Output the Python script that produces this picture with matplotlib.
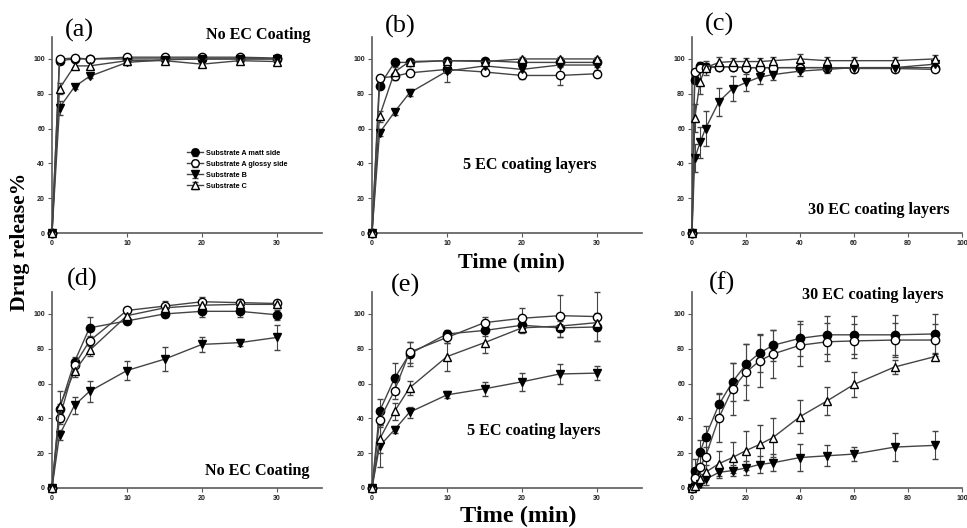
import matplotlib
matplotlib.use("Agg")
import matplotlib.pyplot as plt

# Sampling times (min)
t30 = [0, 1, 3, 5, 10, 15, 20, 25, 30]
t90 = [0, 1, 3, 5, 10, 15, 20, 25, 30, 40, 50, 60, 75, 90]

series_names = ["Substrate A matt side", "Substrate A glossy side", "Substrate B", "Substrate C"]

# (a) No EC coating
a_matt = [0, 99, 100, 100, 100, 100, 100, 100, 100]
a_glossy = [0, 100, 100.5, 100, 101, 101, 101, 101, 100.5]
a_b = [0, 72, 84, 90, 98, 99.5, 100, 100, 100]
a_c = [0, 83, 96, 96, 99, 99, 97, 99, 98.5]
a_matt_err = [0, 1, 1, 1, 1, 1, 1, 1, 1]
a_glossy_err = [0, 1, 1, 1, 1, 1, 1, 1, 1]
a_b_err = [0, 4, 1.5, 1, 1.5, 1, 1, 1, 1]
a_c_err = [0, 3, 2, 2, 1, 1.5, 1, 1, 1]

# (b) 5 EC coating layers
b_matt = [0, 84.5, 98, 98, 99, 99, 98, 98, 98]
b_glossy = [0, 89, 90, 92, 94, 92.5, 90.5, 90.5, 91.5]
b_b = [0, 57.5, 69.5, 80.5, 93, 96, 94, 96.5, 96.5]
b_c = [0, 67, 92.5, 98.5, 99, 98.5, 100, 100, 100]
b_matt_err = [0, 2, 1, 1, 1, 1, 1, 1, 1]
b_glossy_err = [0, 2, 2, 2, 2, 2, 2, 5.5, 2]
b_b_err = [0, 2, 1.5, 2, 6, 1.5, 1.5, 1, 1]
b_c_err = [0, 3, 3, 1, 1, 1, 1, 1, 1]

# (c) 30 EC coating layers
c_matt = [0, 88, 96, 95.5, 95.5, 95.5, 95, 95, 95, 95, 95, 95, 95, 95]
c_glossy = [0, 92.5, 95, 95, 95.5, 95.5, 95, 95, 95, 95, 95, 94.5, 94.5, 94]
c_b = [0, 43, 52, 60, 75.5, 83, 86.5, 89.5, 91, 93, 94, 95, 95, 97]
c_c = [0, 66, 87, 95, 98, 98.5, 98.5, 98.5, 99, 100, 99, 99, 99, 100]
c_matt_err = [0, 2, 2, 2, 1, 1, 1, 1, 1, 1, 1, 1, 1, 1]
c_glossy_err = [0, 2, 2, 2, 1, 1, 1, 1, 1, 1, 1, 1, 1, 1]
c_b_err = [0, 8, 9, 10, 8, 7, 5, 4, 3, 3, 2, 2, 2, 2]
c_c_err = [0, 8, 7, 4, 3, 2, 2, 2, 2, 3, 2, 2, 2, 2]

# (d) No EC coating
d_matt = [0, 45.5, 72.5, 92, 96, 100, 101.5, 101.5, 99.5]
d_glossy = [0, 40, 70.5, 84.5, 102, 104.5, 107, 106.5, 106]
d_b = [0, 30.5, 47.5, 55.5, 67.5, 74, 82.5, 83.5, 86.5]
d_c = [0, 47, 67, 79, 99, 103.5, 105, 105.5, 105.5]
d_matt_err = [0, 3, 3, 6, 2, 2, 3, 3.5, 3]
d_glossy_err = [0, 3, 3, 3, 2, 3, 3, 2, 2]
d_b_err = [0, 3, 5, 6, 5.5, 7, 4.5, 2, 7]
d_c_err = [0, 9, 3, 3, 2, 2, 2, 2, 2]

# (e) 5 EC coating layers
e_matt = [0, 44, 63, 77, 88.5, 90.5, 93.5, 92, 92.5]
e_glossy = [0, 39, 56, 78, 86.5, 95, 97.5, 99, 98.5]
e_b = [0, 24, 33.5, 43.5, 53.5, 57, 61, 65.5, 66]
e_c = [0, 28, 44, 57.5, 75.5, 83.5, 92, 93, 95]
e_matt_err = [0, 7, 9, 7, 2, 3, 3, 5, 8]
e_glossy_err = [0, 4, 5, 6, 3, 3, 6, 12, 14]
e_b_err = [0, 12, 2, 3, 2, 4, 5, 6, 4]
e_c_err = [0, 8, 5, 4, 8, 6, 3, 3, 3]

# (f) 30 EC coating layers
f_matt = [0, 9.5, 20.5, 29.5, 48, 61, 71, 77.5, 82, 86, 88, 88, 88, 88.5]
f_glossy = [0, 5.5, 12, 18, 40.5, 57, 66.5, 73, 77, 82, 84, 84.5, 85, 85]
f_b = [0, 0.5, 2.5, 5, 9, 10, 11.5, 13.5, 14.5, 17.5, 18.5, 19.5, 23.5, 24.5]
f_c = [0, 1, 5, 9, 14, 17.5, 21.5, 25, 29, 41, 50, 59.5, 69.5, 75.5]
f_matt_err = [0, 7, 7, 6, 6, 11, 12, 11, 9, 10, 11, 11, 11.5, 11.5]
f_glossy_err = [0, 5, 8, 10, 14, 15, 16, 15, 14, 12, 11, 10, 10, 9]
f_b_err = [0, 1, 2, 3, 3, 3, 4, 5, 5, 8, 6, 4, 8, 8]
f_c_err = [0, 2, 3, 4, 7, 9, 11, 11, 11, 9.5, 8, 7, 4, 2]

W, H = 967, 528
fig = plt.figure(figsize=(W / 100, H / 100), dpi=100)

SERIF = ["Liberation Serif", "DejaVu Serif"]
SANS = ["Liberation Sans", "DejaVu Sans"]
LINE = "#444444"
SPINE = "#5a5a5a"

styles = [
    dict(marker="o", mfc="black", mec="black"),
    dict(marker="o", mfc="white", mec="black"),
    dict(marker="v", mfc="black", mec="black"),
    dict(marker="^", mfc="white", mec="black"),
]


def px(x, y):
    return x / W, 1 - y / H


def make_axes(left_px, top_px, xmax, xticks):
    l, t = px(left_px, top_px)
    width = 270 / W
    height = 196 / H
    ax = fig.add_axes([l, t - height, width, height])
    ax.set_xlim(0, xmax)
    ax.set_ylim(0, 112.6)
    ax.set_xticks(xticks)
    ax.set_yticks([0, 20, 40, 60, 80, 100])
    for s in ("top", "right"):
        ax.spines[s].set_visible(False)
    for s in ("left", "bottom"):
        ax.spines[s].set_color(SPINE)
        ax.spines[s].set_linewidth(1.2)
    ax.tick_params(direction="out", length=3, width=0.8, color=SPINE, pad=2,
                   labelsize=5)
    for lab in ax.get_xticklabels() + ax.get_yticklabels():
        lab.set_fontfamily(SANS)
        lab.set_fontweight("bold")
        lab.set_color("#222222")
    return ax


def draw(ax, t, ys, errs):
    handles = []
    for y, e, st, name in zip(ys, errs, styles, series_names):
        eb = ax.errorbar(t, y, yerr=e, color=LINE, lw=1.0, elinewidth=0.8,
                         capsize=2.5, capthick=0.8, markersize=6,
                         markeredgewidth=1.0, label=name, clip_on=False,
                         zorder=3, **st)
        for art in eb.lines[1] + eb.lines[2]:
            art.set_clip_on(False)
        handles.append(eb)
    return handles


panels = [
    (52, 37, 36, [0, 10, 20, 30], t30,
     [a_matt, a_glossy, a_b, a_c], [a_matt_err, a_glossy_err, a_b_err, a_c_err]),
    (372, 37, 36, [0, 10, 20, 30], t30,
     [b_matt, b_glossy, b_b, b_c], [b_matt_err, b_glossy_err, b_b_err, b_c_err]),
    (692, 37, 100, [0, 20, 40, 60, 80, 100], t90,
     [c_matt, c_glossy, c_b, c_c], [c_matt_err, c_glossy_err, c_b_err, c_c_err]),
    (52, 292, 36, [0, 10, 20, 30], t30,
     [d_matt, d_glossy, d_b, d_c], [d_matt_err, d_glossy_err, d_b_err, d_c_err]),
    (372, 292, 36, [0, 10, 20, 30], t30,
     [e_matt, e_glossy, e_b, e_c], [e_matt_err, e_glossy_err, e_b_err, e_c_err]),
    (692, 292, 100, [0, 20, 40, 60, 80, 100], t90,
     [f_matt, f_glossy, f_b, f_c], [f_matt_err, f_glossy_err, f_b_err, f_c_err]),
]

axes = []
for left, top, xmax, xt, t, ys, errs in panels:
    ax = make_axes(left, top, xmax, xt)
    h = draw(ax, t, ys, errs)
    axes.append((ax, h))

# Legend in panel (a)
ax_a, h_a = axes[0]
leg = ax_a.legend(handles=h_a, labels=series_names, loc="upper left",
                  bbox_to_anchor=(0.49, 0.44), frameon=False,
                  prop=dict(family=SANS, weight="bold", size=5.2),
                  handlelength=2.2, handletextpad=0.4, labelspacing=0.55,
                  markerscale=0.9, borderaxespad=0)

# Panel letters
letters = [("(a)", 79, 30), ("(b)", 400, 26), ("(c)", 720, 24),
           ("(d)", 82, 279), ("(e)", 405, 285), ("(f)", 722, 283)]
for s, x, y in letters:
    fx, fy = px(x, y)
    fig.text(fx, fy, s, ha="center", va="center", family=SERIF, size=19)

# Condition labels
conds = [("No EC Coating", 258, 35), ("5 EC coating layers", 530, 165),
         ("30 EC coating layers", 879, 210), ("No EC Coating", 257, 471),
         ("5 EC coating layers", 534, 431), ("30 EC coating layers", 873, 295)]
for s, x, y in conds:
    fx, fy = px(x, y)
    fig.text(fx, fy, s, ha="center", va="center", family=SERIF,
             weight="bold", size=11.6)

# Shared axis titles
fx, fy = px(511, 262)
fig.text(fx, fy, "Time (min)", ha="center", va="center", family=SERIF,
         weight="bold", size=16)
fx, fy = px(518, 516)
fig.text(fx, fy, "Time (min)", ha="center", va="center", family=SERIF,
         weight="bold", size=17.5)
fx, fy = px(20, 242)
fig.text(fx, fy, "Drug release%", ha="center", va="center", rotation=90,
         family=SERIF, weight="bold", size=15.6,
         bbox=dict(facecolor="white", edgecolor="none", pad=1.5))

fig.savefig("out.png", dpi=100)
